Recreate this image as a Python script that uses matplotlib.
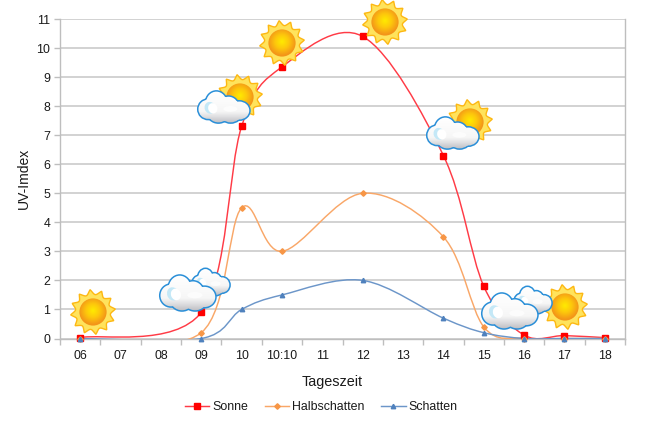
import numpy as np
import matplotlib
matplotlib.use("Agg")
import matplotlib.pyplot as plt
from matplotlib.path import Path
from matplotlib.patches import PathPatch, Circle, Ellipse
from matplotlib.colors import LinearSegmentedColormap
from matplotlib.transforms import Affine2D

plt.rcParams['font.family'] = ['Liberation Sans', 'DejaVu Sans']

categories = ["06", "07", "08", "09", "10", "10:10", "11", "12", "13", "14", "15", "16", "17", "18"]
sonne_idx = [0, 3, 4, 5, 7, 9, 10, 11, 12, 13]
sonne = [0.03, 0.9, 7.3, 9.35, 10.4, 6.3, 1.8, 0.12, 0.1, 0.03]
halb_idx = [0, 3, 4, 5, 7, 9, 10, 11, 12, 13]
halb = [0.0, 0.2, 4.5, 3.0, 5.0, 3.5, 0.4, 0.0, 0.0, 0.0]
schatten_idx = [0, 3, 4, 5, 7, 9, 10, 11, 12, 13]
schatten = [0.0, 0.0, 1.0, 1.5, 2.0, 0.7, 0.2, 0.0, 0.0, 0.0]
series_names = ["Sonne", "Halbschatten", "Schatten"]
series_colors = ["#FF0000", "#F79646", "#4F81BD"]
line_colors = ["#FF3B46", "#F9A768", "#6C96C9"]
y_ticks = list(range(0, 12))

W, H = 650, 428
fig = plt.figure(figsize=(W / 100, H / 100), dpi=100, facecolor="white")
L, R, T, B = 60, 625, 19, 338.5
ax = fig.add_axes([L / W, 1 - B / H, (R - L) / W, (B - T) / H])
ax.set_xlim(-0.5, 13.5)
ax.set_ylim(0, 11)


def smooth_path(xs, ys):
    xs, ys = np.asarray(xs, float), np.asarray(ys, float)
    n = len(xs)
    verts = [(xs[0], ys[0])]
    codes = [Path.MOVETO]
    for i in range(n - 1):
        a, b = max(i - 1, 0), min(i + 2, n - 1)
        verts += [(xs[i] + (xs[i + 1] - xs[a]) / 6, ys[i] + (ys[i + 1] - ys[a]) / 6),
                  (xs[i + 1] - (xs[b] - xs[i]) / 6, ys[i + 1] - (ys[b] - ys[i]) / 6),
                  (xs[i + 1], ys[i + 1])]
        codes += [Path.CURVE4] * 3
    return Path(verts, codes)


ax.grid(axis="y", color="#C6C6C6", lw=1.1, zorder=0)
ax.set_axisbelow(True)
ax.spines["top"].set_visible(False)
for side in ["left", "right", "bottom"]:
    ax.spines[side].set_color("#BEBEBE")
    ax.spines[side].set_linewidth(1.0)

ax.set_yticks(y_ticks)
ax.set_xticks(range(len(categories)))
ax.set_xticklabels(categories)
ax.set_xticks(np.arange(-0.5, 14, 1), minor=True)
ax.tick_params(axis="x", which="major", length=0, labelsize=8.9, pad=8, colors="#1a1a1a")
ax.tick_params(axis="x", which="minor", length=4, width=1, color="#BEBEBE")
ax.tick_params(axis="y", length=4, width=1, color="#BEBEBE", labelsize=8.9, pad=3, labelcolor="#1a1a1a")

markers = ["s", "D", "^"]
sizes = [3.8, 2.8, 3.2]
data = [(sonne_idx, sonne), (halb_idx, halb), (schatten_idx, schatten)]
handles = []
for (ix, vals), name, c, lc, m, s in zip(data, series_names, series_colors, line_colors, markers, sizes):
    ax.add_patch(PathPatch(smooth_path(ix, vals), fc="none", ec=lc, lw=1.05, zorder=3))
    ax.plot(ix, vals, ls="none", marker=m, ms=s, color=c, mec=c, zorder=4, clip_on=False)
    handles.append(ax.plot([], [], color=lc, lw=1.05, marker=m, ms=s, mfc=c, mec=c, label=name)[0])

fig.text(332 / W, 1 - 382 / H, "Tageszeit", ha="center", va="center", fontsize=10.4, color="#1a1a1a")
fig.text(24 / W, 1 - 178 / H, "UV-Imdex", ha="center", va="center", rotation=90, fontsize=10.0, color="#1a1a1a")

fig.legend(handles=handles, loc="center", bbox_to_anchor=(321.5 / W, 1 - 407 / H), ncol=3, frameon=False,
           fontsize=8.9, handlelength=1.95, handletextpad=0.25, columnspacing=1.35, labelcolor="#1a1a1a")

# decorative icons, in pixel coordinates
ov = fig.add_axes([0, 0, 1, 1], zorder=10)
ov.axis("off")
ov.patch.set_alpha(0)

sun_cmap = LinearSegmentedColormap.from_list("sun", ["#FFEB00", "#FDC70C", "#F39519"])
cloud_cmap = LinearSegmentedColormap.from_list("cloud", ["#FFFFFF", "#F6F6F6", "#B4B4BA"])


def draw_sun(cx, cy, r=22.5, z=20):
    n = 12
    t = np.linspace(0, 2 * np.pi, 720, endpoint=False)
    wave = 1 - np.abs(np.sin(n * (t + 0.13) / 2))
    rad = r * (0.78 + 0.22 * wave)
    pts = np.column_stack([cx + rad * np.cos(t), cy + rad * np.sin(t)])
    ov.add_patch(plt.Polygon(pts, closed=True, fc="#FFE35C", ec="#FDB813", lw=1.0, zorder=z))
    gy, gx = np.mgrid[-1:1:60j, -1:1:60j]
    im = ov.imshow(np.hypot(gx, gy + 0.1), cmap=sun_cmap, vmin=0, vmax=1,
                   extent=(cx - 14, cx + 14, cy + 14, cy - 14), zorder=z + 1, aspect="auto")
    im.set_clip_path(Circle((cx, cy), 13.6, transform=ov.transData))


BLOBS = [(-0.62, 0.14, 0.38, 0.60), (-0.30, -0.26, 0.40, 0.70), (0.18, -0.02, 0.38, 0.62),
         (0.60, 0.22, 0.39, 0.56), (-0.22, 0.34, 0.42, 0.62), (0.26, 0.38, 0.42, 0.58),
         (0.0, 0.12, 0.80, 0.58)]


def draw_cloud(cx, cy, w, h, z=30):
    sx, sy = w / 2, h / 2
    paths = [Path.unit_circle().transformed(
        Affine2D().scale(rx * sx, ry * sy).translate(cx + bx * sx, cy + by * sy))
        for bx, by, rx, ry in BLOBS]
    for p in paths:
        ov.add_patch(PathPatch(p, fc="#2A8FD8", ec="#2A8FD8", lw=2.2, zorder=z))
    clip = Path.make_compound_path(*paths)
    gy, gx = np.mgrid[0:1:50j, 0:1:50j]
    im = ov.imshow(gy ** 1.5, cmap=cloud_cmap, vmin=0, vmax=1,
                   extent=(cx - w / 2 - 2, cx + w / 2 + 2, cy + h / 2 + 2, cy - h / 2 - 2),
                   zorder=z + 1, aspect="auto")
    im.set_clip_path(clip, ov.transData)
    ov.add_patch(Ellipse((cx - 0.55 * sx, cy + 0.05 * sy), 0.42 * sx, 0.75 * sy, angle=-20,
                         fc="#BFE7F7", ec="none", zorder=z + 2, alpha=0.9))
    ov.add_patch(Ellipse((cx - 0.44 * sx, cy + 0.08 * sy), 0.36 * sx, 0.65 * sy, angle=-20,
                         fc="#FFFFFF", ec="none", zorder=z + 3))
    ov.add_patch(Ellipse((cx + 0.25 * sx, cy + 0.12 * sy), 0.55 * sx, 0.35 * sy,
                         fc="#FFFFFF", ec="none", zorder=z + 2, alpha=0.7))


for sx_, sy_ in [(93, 312), (282, 43), (385, 22), (240, 97), (470, 122), (565, 307)]:
    draw_sun(sx_, sy_)
draw_cloud(211, 282, 37, 27, z=40)
draw_cloud(188, 293, 55, 36, z=50)
draw_cloud(533, 300, 37, 27, z=40)
draw_cloud(510, 311, 55, 36, z=50)
draw_cloud(224, 107, 51, 32, z=60)
draw_cloud(453, 133, 51, 32, z=60)
ov.set_xlim(0, W)
ov.set_ylim(H, 0)

fig.savefig("out.png", dpi=100, facecolor="white")
